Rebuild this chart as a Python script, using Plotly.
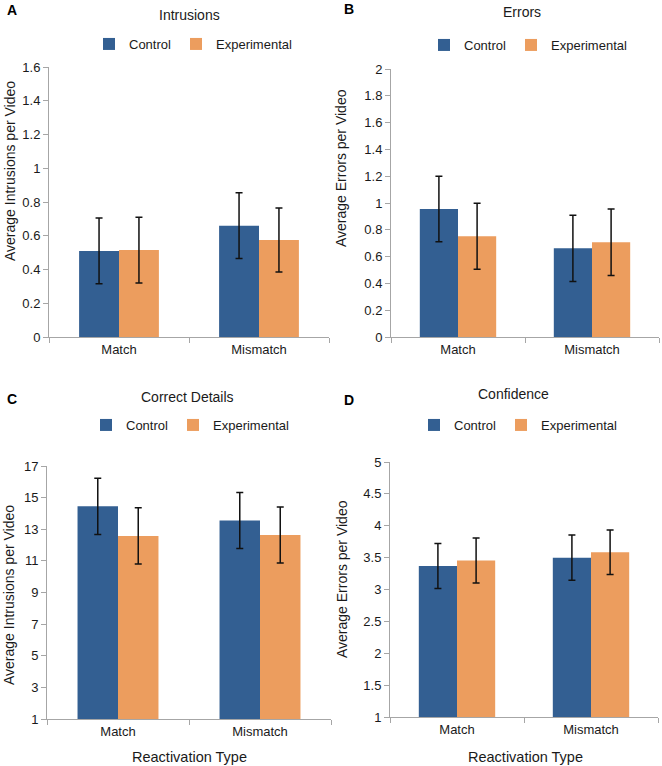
import plotly.graph_objects as go

W, H = 662, 766

categories = ["Match", "Mismatch"]
series_names = ["Control", "Experimental"]

# Panel A: Intrusions
a_control = [0.51, 0.66]
a_control_err = [0.195, 0.195]
a_exper = [0.515, 0.575]
a_exper_err = [0.195, 0.19]

# Panel B: Errors
b_control = [0.955, 0.662]
b_control_err = [0.245, 0.247]
b_exper = [0.752, 0.707]
b_exper_err = [0.247, 0.248]

# Panel C: Correct Details
c_control = [14.45, 13.55]
c_control_err = [1.78, 1.77]
c_exper = [12.58, 12.63]
c_exper_err = [1.78, 1.77]

# Panel D: Confidence
d_control = [3.37, 3.50]
d_control_err = [0.353, 0.353]
d_exper = [3.455, 3.585]
d_exper_err = [0.353, 0.35]

titles = ["Intrusions", "Errors", "Correct Details", "Confidence"]
letters = ["A", "B", "C", "D"]
ytitles = ["Average Intrusions per Video", "Average Errors per Video",
           "Average Intrusions per Video", "Average Errors per Video"]
xtitle = "Reactivation Type"

yranges = [[0, 1.6], [0, 2], [1, 17], [1, 5]]
ydticks = [0.2, 0.2, 2, 0.5]

BLUE = "#335F92"
ORANGE = "#EC9D5E"
AXIS = "#A6A6A6"
TXT = "#1a1a1a"
FONT = "Liberation Sans, Arial, sans-serif"

def px(x):
    return x / W

def py(y):
    return 1 - y / H

# pixel boxes: (left, right, top, bottom)
boxes = [(49, 329, 67, 337), (391, 659, 69, 337), (47, 331, 466, 719), (390, 658, 462, 717)]

data = [
    (a_control, a_control_err, a_exper, a_exper_err),
    (b_control, b_control_err, b_exper, b_exper_err),
    (c_control, c_control_err, c_exper, c_exper_err),
    (d_control, d_control_err, d_exper, d_exper_err),
]

fig = go.Figure()
legend_names = ["legend", "legend2", "legend3", "legend4"]

for i, (cv, ce, ev, ee) in enumerate(data):
    sfx = "" if i == 0 else str(i + 1)
    for name, vals, errs, col in [(series_names[0], cv, ce, BLUE), (series_names[1], ev, ee, ORANGE)]:
        fig.add_trace(go.Bar(
            x=categories, y=vals, name=name,
            marker=dict(color=col, line=dict(width=0)),
            error_y=dict(type="data", array=errs, visible=True, color="#111111",
                         thickness=1.5, width=3.5),
            xaxis="x" + sfx, yaxis="y" + sfx,
            legend=legend_names[i], showlegend=True,
        ))

layout = dict(
    width=W, height=H,
    margin=dict(l=0, r=0, t=0, b=0, autoexpand=False),
    paper_bgcolor="white", plot_bgcolor="white",
    barmode="group", bargap=0.43, bargroupgap=0,
    font=dict(family=FONT, size=13, color=TXT),
)

legend_pos = [(193, 44), (528, 45), (190, 425), (518, 425)]

annotations = []
for i in range(4):
    sfx = "" if i == 0 else str(i + 1)
    l, r, t, b = boxes[i]
    layout["xaxis" + sfx] = dict(
        domain=[px(l), px(r)], anchor="y" + sfx,
        showline=True, linecolor=AXIS, linewidth=1,
        ticks="outside", tickson="boundaries", ticklen=5, tickcolor=AXIS,
        showgrid=False, tickfont=dict(size=13, color=TXT, family=FONT),
        fixedrange=True, automargin=False,
    )
    layout["yaxis" + sfx] = dict(
        domain=[py(b), py(t)], anchor="x" + sfx,
        range=yranges[i], dtick=ydticks[i], tick0=yranges[i][0],
        showline=True, linecolor=AXIS, linewidth=1,
        ticks="outside", ticklen=5, tickcolor=AXIS,
        showgrid=False, zeroline=False,
        tickfont=dict(size=13, color=TXT, family=FONT),
        fixedrange=True, automargin=False,
    )
    lx, ly = legend_pos[i]
    layout[legend_names[i]] = dict(
        orientation="h", x=px(lx), y=py(ly), xanchor="center", yanchor="middle",
        font=dict(size=13, color=TXT, family=FONT), itemwidth=30,
        bgcolor="rgba(0,0,0,0)", traceorder="normal",
    )

title_pos = [(189, 15), (522, 12), (187, 397), (513, 394)]
letter_pos = [(12, 10), (349, 9), (12, 399), (349, 400)]
ytitle_pos = [(10, 171), (341, 168), (9, 595), (342, 579)]

for i in range(4):
    tx, ty = title_pos[i]
    annotations.append(dict(text=titles[i], x=px(tx), y=py(ty), xref="paper", yref="paper",
                            showarrow=False, xanchor="center", yanchor="middle",
                            font=dict(size=14, color=TXT, family=FONT)))
    lx, ly = letter_pos[i]
    annotations.append(dict(text="<b>" + letters[i] + "</b>", x=px(lx), y=py(ly), xref="paper", yref="paper",
                            showarrow=False, xanchor="center", yanchor="middle",
                            font=dict(size=14, color="#000000", family=FONT)))
    yx, yy = ytitle_pos[i]
    annotations.append(dict(text=ytitles[i], x=px(yx), y=py(yy), xref="paper", yref="paper",
                            showarrow=False, xanchor="center", yanchor="middle", textangle=-90,
                            font=dict(size=14, color=TXT, family=FONT)))

for xx in [189, 525]:
    annotations.append(dict(text=xtitle, x=px(xx), y=py(757), xref="paper", yref="paper",
                            showarrow=False, xanchor="center", yanchor="middle",
                            font=dict(size=14.5, color=TXT, family=FONT)))

layout["annotations"] = annotations
fig.update_layout(**layout)

fig.write_html("out.html",
               config={"displayModeBar": False},
               post_script="document.body.style.margin='0';document.body.style.overflow='hidden';")
